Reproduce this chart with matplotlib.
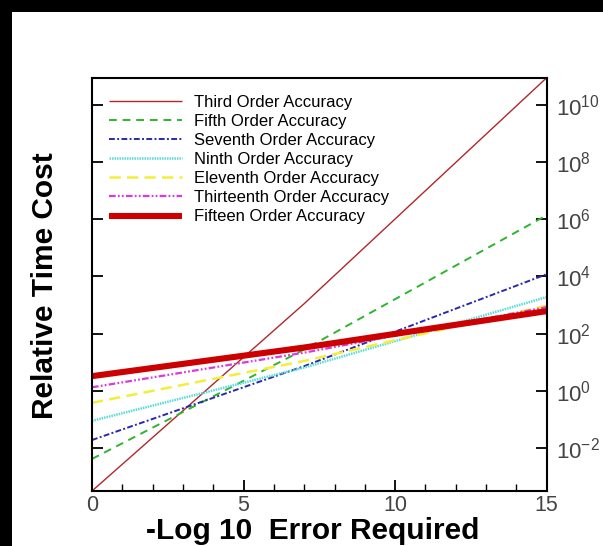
import numpy as np
import matplotlib
matplotlib.use("Agg")
import matplotlib.pyplot as plt
from matplotlib.patches import Rectangle
from matplotlib.ticker import FixedLocator, MultipleLocator, LogFormatterSciNotation

plt.rcParams['font.family'] = ['Liberation Sans', 'DejaVu Sans']
plt.rcParams['mathtext.fontset'] = 'custom'
plt.rcParams['mathtext.rm'] = 'Liberation Sans'
plt.rcParams['mathtext.it'] = 'Liberation Sans'
plt.rcParams['mathtext.bf'] = 'Liberation Sans:bold'

# ---- data (log10 of relative time cost) ----
error_required = [0, 7, 15]
log_third = [-3.49, 3.05, 10.94]
log_fifth = [-2.37, 1.45, 6.14]
log_seventh = [-1.71, 0.87, 4.08]
log_ninth = [-1.04, 0.82, 3.28]
log_eleventh = [-0.41, 1.05, 2.98]
log_thirteenth = [0.13, 1.34, 2.93]
log_fifteen = [0.52, 1.52, 2.79]

series_names = ["Third Order Accuracy", "Fifth Order Accuracy", "Seventh Order Accuracy",
                "Ninth Order Accuracy", "Eleventh Order Accuracy", "Thirteenth Order Accuracy",
                "Fifteen Order Accuracy"]
x_ticks = [0, 5, 10, 15]
y_tick_exponents = [-2, 0, 2, 4, 6, 8, 10]

series = [log_third, log_fifth, log_seventh, log_ninth, log_eleventh, log_thirteenth, log_fifteen]
styles = [
    dict(color='#B0282A', lw=1.0, ls='-'),
    dict(color='#2DB52D', lw=1.4, ls=(0, (4.0, 3.0))),
    dict(color='#2A2AA8', lw=1.4, ls=(0, (3.0, 1.2, 1.0, 1.2))),
    dict(color='#5ADADA', lw=1.8, ls=(0, (0.6, 0.4))),
    dict(color='#F2EE3A', lw=1.8, ls=(0, (4.5, 2.5))),
    dict(color='#D93AD9', lw=1.6, ls=(0, (3.0, 1.0, 0.8, 1.0, 0.8, 1.0))),
    dict(color='#CC0000', lw=4.4, ls='-'),
]

W, H = 603, 546
fig = plt.figure(figsize=(W / 100, H / 100), dpi=100, facecolor='white')
# black frame bands (top and left)
fig.add_artist(Rectangle((0, 1 - 12 / H), 1, 12 / H, transform=fig.transFigure,
                         facecolor='black', edgecolor='none', zorder=0))
fig.add_artist(Rectangle((0, 0), 12 / W, 1, transform=fig.transFigure,
                         facecolor='black', edgecolor='none', zorder=0))

ax = fig.add_axes([92 / W, 1 - 491 / H, (546.7 - 92) / W, (491 - 77.7) / H])
x = np.array(error_required, dtype=float)
for name, vals, st in zip(series_names, series, styles):
    ax.plot(x, 10 ** np.array(vals), color=st['color'], lw=st['lw'], ls=st['ls'],
            label=name, solid_capstyle='butt')

ax.set_yscale('log')
ax.set_xlim(x_ticks[0], x_ticks[-1])
ax.set_ylim(10 ** log_third[0], 10 ** log_third[-1])

ax.xaxis.set_major_locator(FixedLocator(x_ticks))
ax.xaxis.set_minor_locator(MultipleLocator(1))
ax.yaxis.set_major_locator(FixedLocator([10.0 ** e for e in y_tick_exponents]))
ax.yaxis.set_minor_locator(FixedLocator([]))
ax.yaxis.set_major_formatter(LogFormatterSciNotation())

ax.tick_params(axis='x', which='major', direction='in', length=8, width=1.3,
               top=False, bottom=True, labelsize=15.5, pad=3, labelcolor='#444444')
ax.tick_params(axis='x', which='minor', direction='in', length=5, width=1.0,
               top=False, bottom=True)
ax.tick_params(axis='y', which='major', direction='in', length=8, width=1.3,
               left=True, right=True, labelleft=False, labelright=True,
               labelsize=16, pad=7, labelcolor='#444444')
for s in ax.spines.values():
    s.set_linewidth(1.5)
    s.set_color('black')

leg = ax.legend(loc='upper left', bbox_to_anchor=(109 / W, 1 - 94.5 / H),
                bbox_transform=fig.transFigure, frameon=False, fontsize=12,
                handlelength=4.4, handletextpad=0.7, labelspacing=0.25,
                borderpad=0, borderaxespad=0)

fig.text(45 / W, 1 - 286 / H, "Relative Time Cost", rotation=90, ha='center', va='center',
         fontsize=21.5, fontweight='bold')
fig.text(313 / W, 1 - 531 / H, "-Log 10  Error Required", ha='center', va='center',
         fontsize=21.5, fontweight='bold')

fig.savefig('out.png', dpi=100, facecolor='white')
